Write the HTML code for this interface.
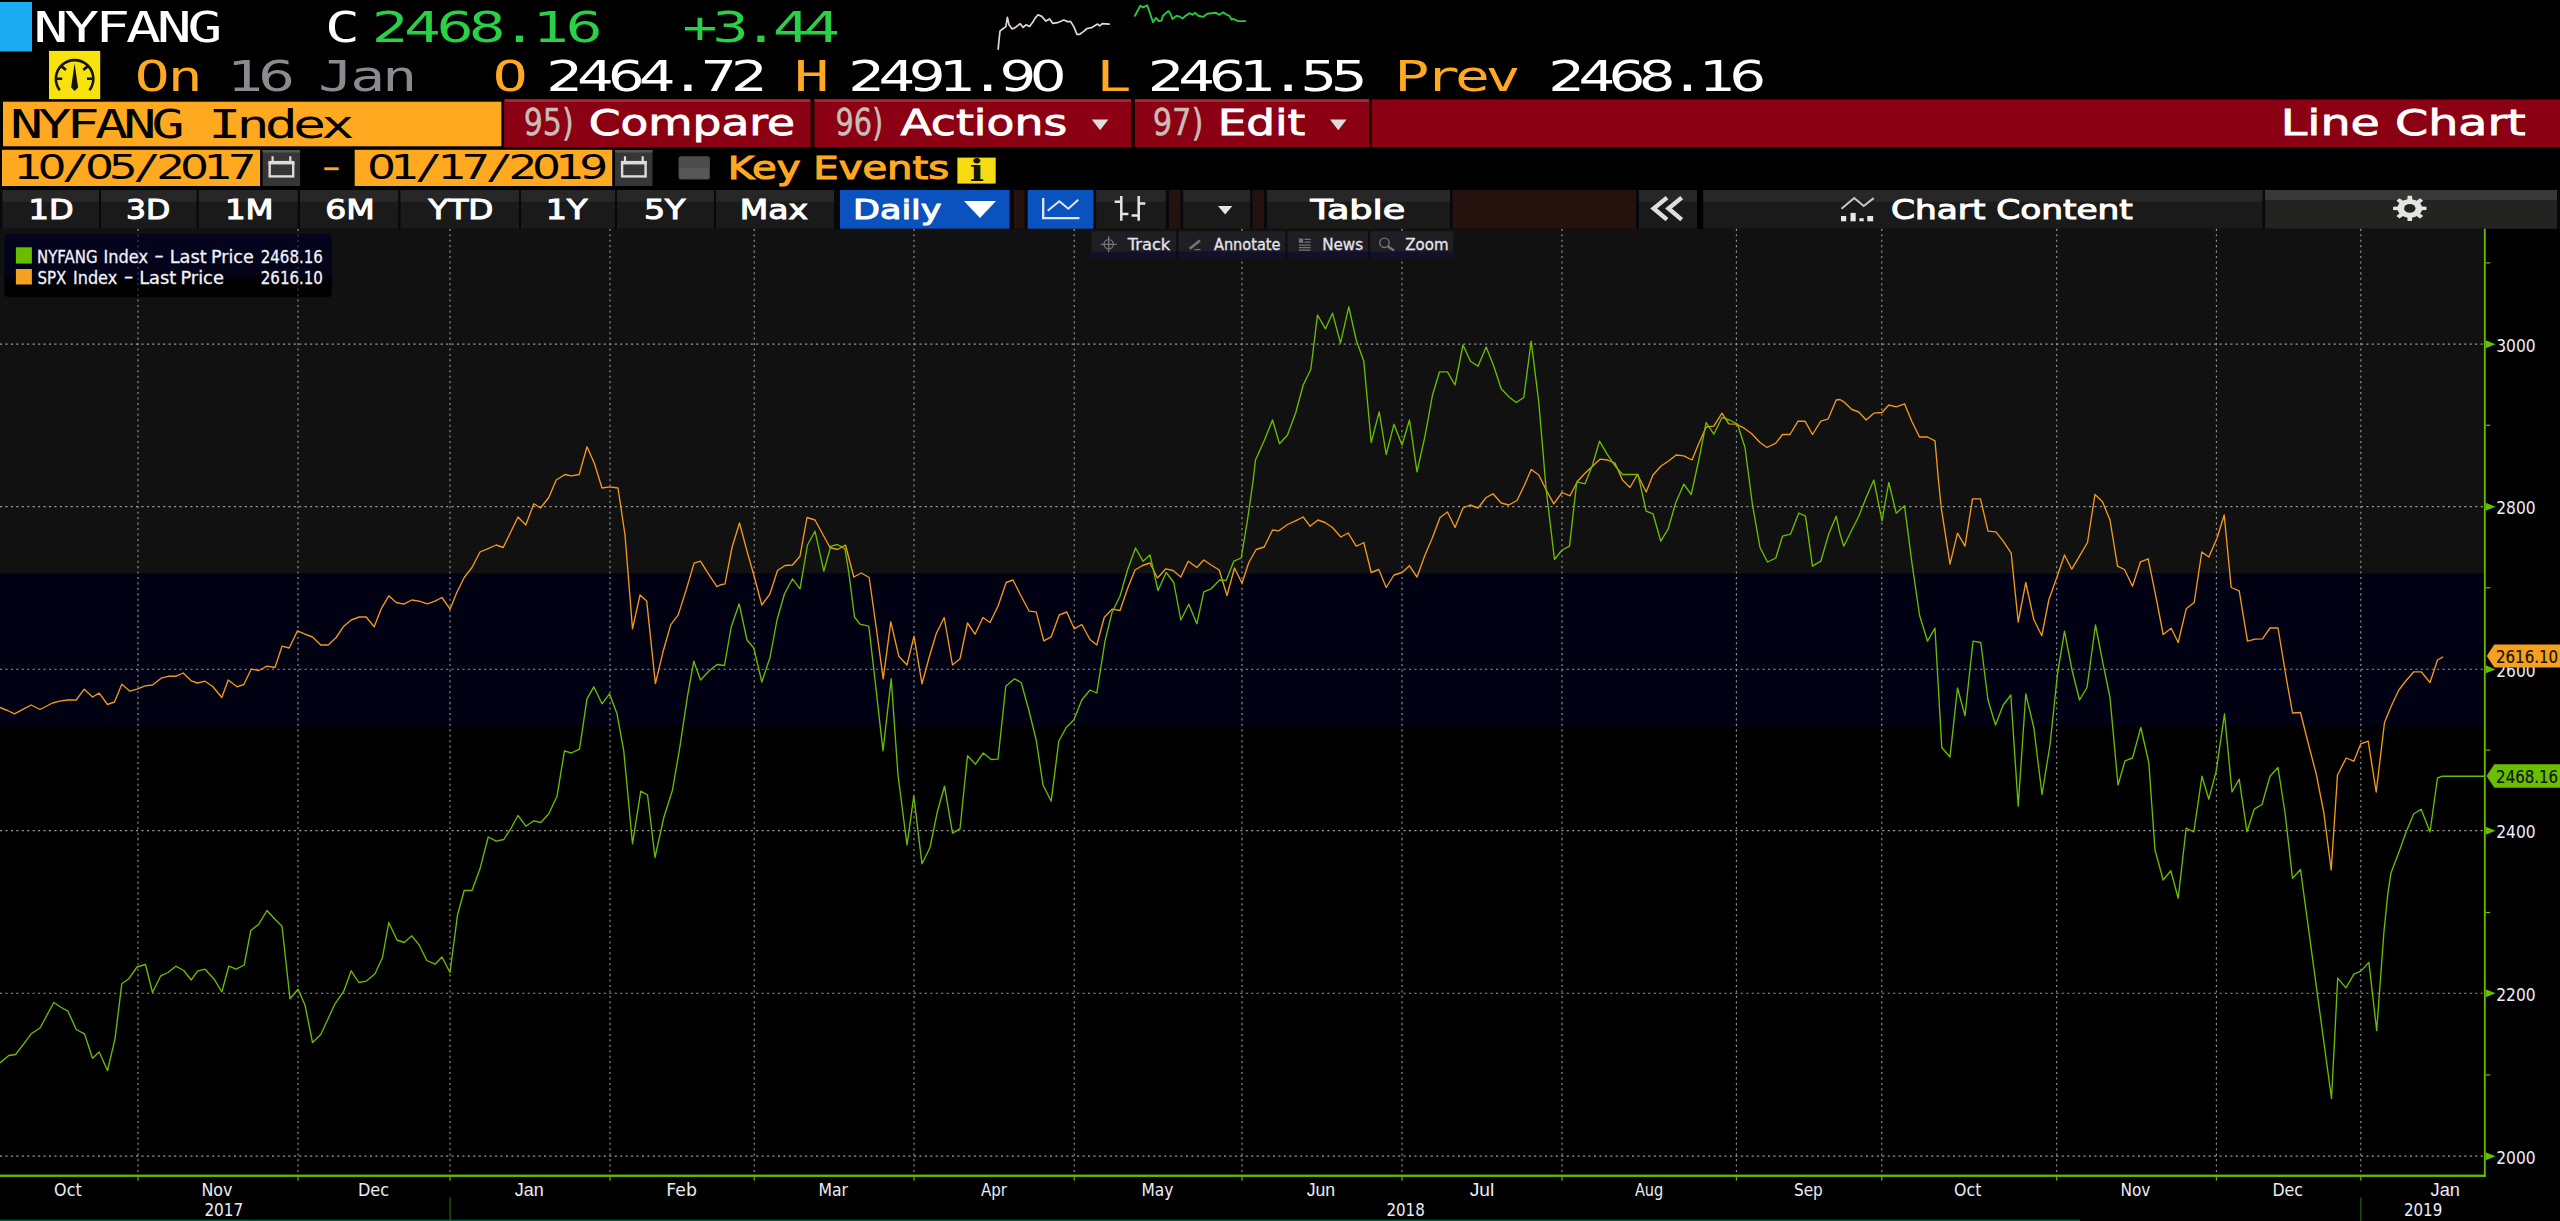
<!DOCTYPE html>
<html><head><meta charset="utf-8"><title>NYFANG Index - Line Chart</title>
<style>html,body{margin:0;padding:0;background:#000;overflow:hidden}svg{display:block}</style></head>
<body>
<svg width="2560" height="1221" viewBox="0 0 2560 1221">
<rect x="0" y="0" width="2560" height="1221" fill="#000" />
<rect x="0" y="2" width="32" height="49.5" fill="#1AABF0" />
<text transform="translate(0 42) scale(1.385 1)" x="24.24 46.47 68.70 90.93 113.16 135.39" y="0" font-family="'DejaVu Sans Mono', 'Liberation Mono', monospace"  font-size="41.84" fill="#fff" >NYFANG</text>
<text transform="translate(0 42) scale(1.385 1)" x="234.70" y="0" font-family="'DejaVu Sans Mono', 'Liberation Mono', monospace"  font-size="41.84" fill="#fff" >C</text>
<text transform="translate(0 42) scale(1.385 1)" y="0" font-size="41.84" fill="#28D146" ><tspan font-family="'DejaVu Sans', 'Liberation Sans', sans-serif" x="268.60 291.88 315.17 338.46">2468</tspan><tspan font-family="'DejaVu Sans Mono', 'Liberation Mono', monospace" x="362.47">.</tspan><tspan font-family="'DejaVu Sans', 'Liberation Sans', sans-serif" x="385.04 408.33">16</tspan></text>
<text transform="translate(0 42) scale(1.385 1)" y="0" font-size="41.84" fill="#28D146" ><tspan font-family="'DejaVu Sans Mono', 'Liberation Mono', monospace" x="492.79">+</tspan><tspan font-family="'DejaVu Sans', 'Liberation Sans', sans-serif" x="514.07">3</tspan><tspan font-family="'DejaVu Sans Mono', 'Liberation Mono', monospace" x="536.78">.</tspan><tspan font-family="'DejaVu Sans', 'Liberation Sans', sans-serif" x="558.07 580.06">44</tspan></text>
<path d="M998.2 49.1 L999.0 40.1 L1000.0 31.1 L1003.2 28.5 L1005.8 26.9 L1007.4 17.4 L1009.0 24.8 L1012.2 29.0 L1015.8 27.2 L1020.1 23.7 L1023.2 27.4 L1025.9 24.8 L1029.6 26.4 L1032.7 22.2 L1035.4 17.9 L1038.0 14.8 L1041.7 16.4 L1045.9 21.1 L1049.6 19.0 L1052.8 23.4 L1057.5 22.7 L1063.8 20.0 L1067.5 21.6 L1070.7 21.6 L1073.9 26.9 L1077.0 34.3 L1079.7 34.3 L1083.4 31.6 L1087.0 28.5 L1091.8 27.6 L1095.5 25.3 L1097.6 24.1 L1099.7 25.8 L1102.3 23.7 L1109.2 24.1" fill="none" stroke="#E4D6D6" stroke-width="1.7" stroke-linejoin="round" stroke-linecap="round"/>
<path d="M1135.0 15.8 L1137.7 10.5 L1140.3 5.8 L1143.0 7.4 L1147.2 5.3 L1149.8 12.7 L1153.0 22.2 L1156.1 17.9 L1158.8 21.1 L1161.4 20.6 L1163.0 15.8 L1168.3 11.1 L1170.4 13.7 L1172.5 19.0 L1176.7 15.8 L1179.9 16.7 L1182.5 18.5 L1186.2 15.3 L1189.9 13.2 L1192.5 14.8 L1195.2 12.9 L1198.3 15.8 L1203.1 16.9 L1207.3 13.7 L1211.5 13.2 L1215.7 12.7 L1219.4 14.8 L1223.1 12.4 L1226.8 14.8 L1228.9 15.3 L1231.6 19.5 L1233.7 19.0 L1237.9 21.1 L1245.3 21.1" fill="none" stroke="#27C840" stroke-width="1.9" stroke-linejoin="round" stroke-linecap="round"/>
<rect x="49" y="50.9" width="51.2" height="48.2" fill="#F8E20E" />
<g transform="translate(74.6 78.8)" stroke="#141400" stroke-width="2.6" fill="none" stroke-linecap="butt"><path d="M-14.84 11.38A18.7 18.7 0 1 1 14.84 11.38"/><path d="M-18.6 0H-12.4M18.6 0H12.4M-13.8 -12.9L-8.6 -8.9M13.8 -12.9L8.6 -8.9"/><path d="M0 -15.2L3.5 8.6L0 12.2L-3.5 8.6Z" fill="#141400" stroke="none"/></g>
<text transform="translate(0 91) scale(1.385 1)" x="97.25 121.13" y="0" font-family="'DejaVu Sans Mono', 'Liberation Mono', monospace"  font-size="41.84" fill="#FEA920" >On</text>
<text transform="translate(0 91) scale(1.385 1)" x="164.18 186.31" y="0" font-family="'DejaVu Sans', 'Liberation Sans', sans-serif"  font-size="41.84" fill="#8a8a90" >16</text>
<text transform="translate(0 91) scale(1.385 1)" x="229.72 252.86 276.00" y="0" font-family="'DejaVu Sans Mono', 'Liberation Mono', monospace"  font-size="41.84" fill="#8a8a90" >Jan</text>
<text transform="translate(0 91) scale(1.385 1)" x="355.85" y="0" font-family="'DejaVu Sans Mono', 'Liberation Mono', monospace"  font-size="41.84" fill="#FEA920" >O</text>
<text transform="translate(0 91) scale(1.385 1)" y="0" font-size="41.84" fill="#fff" ><tspan font-family="'DejaVu Sans', 'Liberation Sans', sans-serif" x="394.48 416.69 438.90 461.12">2464</tspan><tspan font-family="'DejaVu Sans Mono', 'Liberation Mono', monospace" x="484.04">.</tspan><tspan font-family="'DejaVu Sans', 'Liberation Sans', sans-serif" x="505.54 527.75">72</tspan></text>
<text transform="translate(0 91) scale(1.385 1)" x="573.54" y="0" font-family="'DejaVu Sans Mono', 'Liberation Mono', monospace"  font-size="41.84" fill="#FEA920" >H</text>
<text transform="translate(0 91) scale(1.385 1)" y="0" font-size="41.84" fill="#fff" ><tspan font-family="'DejaVu Sans', 'Liberation Sans', sans-serif" x="612.46 634.29 656.12 677.96">2491</tspan><tspan font-family="'DejaVu Sans Mono', 'Liberation Mono', monospace" x="700.50">.</tspan><tspan font-family="'DejaVu Sans', 'Liberation Sans', sans-serif" x="721.62 743.45">90</tspan></text>
<text transform="translate(0 91) scale(1.385 1)" x="791.77" y="0" font-family="'DejaVu Sans Mono', 'Liberation Mono', monospace"  font-size="41.84" fill="#FEA920" >L</text>
<text transform="translate(0 91) scale(1.385 1)" y="0" font-size="41.84" fill="#fff" ><tspan font-family="'DejaVu Sans', 'Liberation Sans', sans-serif" x="828.70 850.72 872.73 894.75">2461</tspan><tspan font-family="'DejaVu Sans Mono', 'Liberation Mono', monospace" x="917.48">.</tspan><tspan font-family="'DejaVu Sans', 'Liberation Sans', sans-serif" x="938.78 960.79">55</tspan></text>
<text transform="translate(0 91) scale(1.385 1)" x="1006.81 1028.71 1050.62 1072.52" y="0" font-family="'DejaVu Sans Mono', 'Liberation Mono', monospace"  font-size="41.84" fill="#FEA920" >Prev</text>
<text transform="translate(0 91) scale(1.385 1)" y="0" font-size="41.84" fill="#fff" ><tspan font-family="'DejaVu Sans', 'Liberation Sans', sans-serif" x="1117.87 1139.66 1161.44 1183.23">2468</tspan><tspan font-family="'DejaVu Sans Mono', 'Liberation Mono', monospace" x="1205.73">.</tspan><tspan font-family="'DejaVu Sans', 'Liberation Sans', sans-serif" x="1226.80 1248.58">16</tspan></text>
<rect x="504.1" y="99.4" width="2055.9" height="47.8" fill="#8C0014" />
<rect x="505" y="99.3" width="305.5" height="2.5" fill="#A22E3A" />
<rect x="814.5" y="99.3" width="316.5" height="2.5" fill="#A22E3A" />
<rect x="1135" y="99.3" width="234" height="2.5" fill="#A22E3A" />
<rect x="810.5" y="99.3" width="4" height="48" fill="#1a0003" />
<rect x="1131" y="99.3" width="4" height="48" fill="#1a0003" />
<rect x="1369" y="99.3" width="3" height="48" fill="#1a0003" />
<rect x="3" y="101.7" width="498.4" height="44.6" fill="#FEA920" />
<text transform="translate(0 137.5) scale(1.385 1)" x="7.23 27.67 48.10 68.54 88.98 109.41" y="0" font-family="'DejaVu Sans Mono', 'Liberation Mono', monospace"  font-size="39.78" fill="#000" >NYFANG</text>
<text transform="translate(0 137.5) scale(1.385 1)" x="150.29 170.73 191.16 211.60 232.04" y="0" font-family="'DejaVu Sans Mono', 'Liberation Mono', monospace"  font-size="39.78" fill="#000" >Index</text>
<text x="523.76" y="134.95" font-family="'DejaVu Sans', 'Liberation Sans', sans-serif"  font-size="37.17" textLength="49.87" lengthAdjust="spacingAndGlyphs" fill="#C9BDB6" stroke="#C9BDB6" stroke-width="0.5" >95)</text>
<text x="588.66" y="134.50" font-family="'DejaVu Sans', 'Liberation Sans', sans-serif"  font-size="36.35" textLength="206.35" lengthAdjust="spacingAndGlyphs" fill="#fff" stroke="#fff" stroke-width="0.8" >Compare</text>
<text x="835.44" y="134.95" font-family="'DejaVu Sans', 'Liberation Sans', sans-serif"  font-size="37.17" textLength="47.78" lengthAdjust="spacingAndGlyphs" fill="#C9BDB6" stroke="#C9BDB6" stroke-width="0.5" >96)</text>
<text x="900.45" y="134.50" font-family="'DejaVu Sans', 'Liberation Sans', sans-serif"  font-size="36.35" textLength="166.77" lengthAdjust="spacingAndGlyphs" fill="#fff" stroke="#fff" stroke-width="0.8" >Actions</text>
<text x="1152.63" y="134.95" font-family="'DejaVu Sans', 'Liberation Sans', sans-serif"  font-size="37.17" textLength="50.75" lengthAdjust="spacingAndGlyphs" fill="#C9BDB6" stroke="#C9BDB6" stroke-width="0.5" >97)</text>
<text x="1217.65" y="134.50" font-family="'DejaVu Sans', 'Liberation Sans', sans-serif"  font-size="36.35" textLength="87.73" lengthAdjust="spacingAndGlyphs" fill="#fff" stroke="#fff" stroke-width="0.8" >Edit</text>
<text x="2280.73" y="134.50" font-family="'DejaVu Sans', 'Liberation Sans', sans-serif"  font-size="36.35" textLength="245.01" lengthAdjust="spacingAndGlyphs" fill="#fff" stroke="#fff" stroke-width="0.8" >Line Chart</text>
<path d="M1091.8 119.4h16.6l-8.3 10.8z" fill="#ddd"/>
<path d="M1330 119.4h16.6l-8.3 10.8z" fill="#ddd"/>
<rect x="2" y="149.8" width="258.1" height="36.2" fill="#FEA920" />
<rect x="262.6" y="150" width="37.5" height="36" fill="#363636" />
<rect x="262.6" y="150" width="37.5" height="2.5" fill="#555" />
<g fill="none" stroke="#E2DADA"><rect x="269.7" y="163" width="23.5" height="13.4" stroke-width="2.4"/><path d="M268.5 162.6h25.9" stroke-width="3.4"/><path d="M272.6 156.3v5M290.3 156.3v5" stroke-width="2.2"/></g>
<rect x="354.7" y="149.8" width="257.5" height="36.2" fill="#FEA920" />
<rect x="615" y="150" width="37.5" height="36" fill="#363636" />
<rect x="615" y="150" width="37.5" height="2.5" fill="#555" />
<g fill="none" stroke="#E2DADA"><rect x="622.1" y="163" width="23.5" height="13.4" stroke-width="2.4"/><path d="M620.9 162.6h25.9" stroke-width="3.4"/><path d="M625.0 156.3v5M642.7 156.3v5" stroke-width="2.2"/></g>
<text transform="translate(0 179) scale(1.385 1)" y="0" font-size="32.92" fill="#000" ><tspan font-family="'DejaVu Sans', 'Liberation Sans', sans-serif" x="9.92 27.06">10</tspan><tspan font-family="'DejaVu Sans Mono', 'Liberation Mono', monospace" x="44.76">/</tspan><tspan font-family="'DejaVu Sans', 'Liberation Sans', sans-serif" x="61.34 78.48">05</tspan><tspan font-family="'DejaVu Sans Mono', 'Liberation Mono', monospace" x="96.18">/</tspan><tspan font-family="'DejaVu Sans', 'Liberation Sans', sans-serif" x="112.76 129.90 147.04 164.18">2017</tspan></text>
<text transform="translate(0 179) scale(1.385 1)" y="0" font-size="32.92" fill="#000" ><tspan font-family="'DejaVu Sans', 'Liberation Sans', sans-serif" x="264.98 282.00">01</tspan><tspan font-family="'DejaVu Sans Mono', 'Liberation Mono', monospace" x="299.59">/</tspan><tspan font-family="'DejaVu Sans', 'Liberation Sans', sans-serif" x="316.05 333.07">17</tspan><tspan font-family="'DejaVu Sans Mono', 'Liberation Mono', monospace" x="350.66">/</tspan><tspan font-family="'DejaVu Sans', 'Liberation Sans', sans-serif" x="367.12 384.14 401.17 418.19">2019</tspan></text>
<rect x="324.3" y="167.3" width="14.4" height="2.9" fill="#FEA920" />
<rect x="678.5" y="156.3" width="31.4" height="23.2" rx="2.5" fill="#4c4c4c"/>
<rect x="679.5" y="168" width="29.4" height="10.5" fill="#575757" />
<text x="727.75" y="178.65" font-family="'DejaVu Sans', 'Liberation Sans', sans-serif"  font-size="31.28" textLength="221.45" lengthAdjust="spacingAndGlyphs" fill="#FEA920" stroke="#FEA920" stroke-width="1.1" >Key Events</text>
<rect x="957.4" y="157.6" width="38.3" height="26" fill="#F6DA12" />
<text x="977" y="180.9" text-anchor="middle" font-family="'DejaVu Serif', 'Liberation Serif', serif" font-weight="bold" font-size="30" fill="#141400" transform="translate(977 0) scale(1.25 1) translate(-977 0)">i</text>
<rect x="0" y="190" width="2560" height="38.80000000000001" fill="#07070c" />
<rect x="1013" y="190" width="626" height="38.80000000000001" fill="#24120F" />
<rect x="2.4" y="190" width="96.6" height="38.80000000000001" fill="#1a1a1a" />
<rect x="2.4" y="190" width="96.6" height="11.800000000000011" fill="#272727" />
<rect x="101" y="190" width="95.5" height="38.80000000000001" fill="#1a1a1a" />
<rect x="101" y="190" width="95.5" height="11.800000000000011" fill="#272727" />
<rect x="198.7" y="190" width="98.90000000000003" height="38.80000000000001" fill="#1a1a1a" />
<rect x="198.7" y="190" width="98.90000000000003" height="11.800000000000011" fill="#272727" />
<rect x="300" y="190" width="98.19999999999999" height="38.80000000000001" fill="#1a1a1a" />
<rect x="300" y="190" width="98.19999999999999" height="11.800000000000011" fill="#272727" />
<rect x="400.5" y="190" width="118.5" height="38.80000000000001" fill="#1a1a1a" />
<rect x="400.5" y="190" width="118.5" height="11.800000000000011" fill="#272727" />
<rect x="521" y="190" width="94" height="38.80000000000001" fill="#1a1a1a" />
<rect x="521" y="190" width="94" height="11.800000000000011" fill="#272727" />
<rect x="617" y="190" width="97" height="38.80000000000001" fill="#1a1a1a" />
<rect x="617" y="190" width="97" height="11.800000000000011" fill="#272727" />
<rect x="716" y="190" width="118" height="38.80000000000001" fill="#1a1a1a" />
<rect x="716" y="190" width="118" height="11.800000000000011" fill="#272727" />
<text x="28.58" y="219.20" font-family="'DejaVu Sans', 'Liberation Sans', sans-serif"  font-size="26.20" textLength="45.01" lengthAdjust="spacingAndGlyphs" fill="#fff" stroke="#fff" stroke-width="1.0" >1D</text>
<text x="126.10" y="219.20" font-family="'DejaVu Sans', 'Liberation Sans', sans-serif"  font-size="26.20" textLength="44.26" lengthAdjust="spacingAndGlyphs" fill="#fff" stroke="#fff" stroke-width="1.0" >3D</text>
<text x="224.93" y="219.20" font-family="'DejaVu Sans', 'Liberation Sans', sans-serif"  font-size="26.20" textLength="48.75" lengthAdjust="spacingAndGlyphs" fill="#fff" stroke="#fff" stroke-width="1.0" >1M</text>
<text x="325.19" y="219.20" font-family="'DejaVu Sans', 'Liberation Sans', sans-serif"  font-size="26.20" textLength="49.53" lengthAdjust="spacingAndGlyphs" fill="#fff" stroke="#fff" stroke-width="1.0" >6M</text>
<text x="428.56" y="219.20" font-family="'DejaVu Sans', 'Liberation Sans', sans-serif"  font-size="26.20" textLength="64.86" lengthAdjust="spacingAndGlyphs" fill="#fff" stroke="#fff" stroke-width="1.0" >YTD</text>
<text x="545.84" y="219.20" font-family="'DejaVu Sans', 'Liberation Sans', sans-serif"  font-size="26.20" textLength="41.60" lengthAdjust="spacingAndGlyphs" fill="#fff" stroke="#fff" stroke-width="1.0" >1Y</text>
<text x="643.93" y="219.20" font-family="'DejaVu Sans', 'Liberation Sans', sans-serif"  font-size="26.20" textLength="41.50" lengthAdjust="spacingAndGlyphs" fill="#fff" stroke="#fff" stroke-width="1.0" >5Y</text>
<text x="739.76" y="219.20" font-family="'DejaVu Sans', 'Liberation Sans', sans-serif"  font-size="26.20" textLength="68.32" lengthAdjust="spacingAndGlyphs" fill="#fff" stroke="#fff" stroke-width="1.0" >Max</text>
<rect x="836" y="190" width="4" height="38.80000000000001" fill="#07070c" />
<rect x="840" y="190" width="169.7" height="38.80000000000001" fill="#0A52BE" />
<text x="853.07" y="219.20" font-family="'DejaVu Sans', 'Liberation Sans', sans-serif"  font-size="26.20" textLength="88.47" lengthAdjust="spacingAndGlyphs" fill="#fff" stroke="#fff" stroke-width="1.0" >Daily</text>
<path d="M964 201h32l-16 17z" fill="#fff"/>
<rect x="1009.7" y="190" width="4.3" height="38.80000000000001" fill="#07070c" />
<rect x="1024.5" y="190" width="3.2" height="38.80000000000001" fill="#07070c" />
<rect x="1027.7" y="190" width="65.9" height="38.80000000000001" fill="#0A52BE" />
<path d="M1043.2 198.1V218.1H1079.4" fill="none" stroke="#E6E6EA" stroke-width="2.3"/>
<path d="M1047.7 210.8L1059.3 201.3L1068.3 208.7L1078.3 199.7" fill="none" stroke="#E6E6EA" stroke-width="2"/>
<rect x="1093.6" y="190" width="2.6" height="38.80000000000001" fill="#07070c" />
<rect x="1096.2" y="190" width="69.70000000000005" height="38.80000000000001" fill="#1a1a1a" />
<rect x="1096.2" y="190" width="69.70000000000005" height="11.800000000000011" fill="#272727" />
<path d="M1121.3 196V220.8M1114.7 201.8H1121.3M1121.3 214H1128.4M1138.7 196V220.8M1138.7 203.4H1145.3M1131.6 215.5H1138.7" fill="none" stroke="#E8E4E4" stroke-width="2.5"/>
<rect x="1165.9" y="190" width="3.1" height="38.80000000000001" fill="#07070c" />
<rect x="1180.6" y="190" width="2.7" height="38.80000000000001" fill="#07070c" />
<rect x="1183.3" y="190" width="67.0" height="38.80000000000001" fill="#1a1a1a" />
<rect x="1183.3" y="190" width="67.0" height="11.800000000000011" fill="#272727" />
<path d="M1218 206h14.3l-7.15 8.5z" fill="#E8E4E4"/>
<rect x="1250.3" y="190" width="2.1" height="38.80000000000001" fill="#07070c" />
<rect x="1264" y="190" width="3.1" height="38.80000000000001" fill="#07070c" />
<rect x="1267.1" y="190" width="182.9000000000001" height="38.80000000000001" fill="#1a1a1a" />
<rect x="1267.1" y="190" width="182.9000000000001" height="11.800000000000011" fill="#272727" />
<text x="1310.60" y="219.20" font-family="'DejaVu Sans', 'Liberation Sans', sans-serif"  font-size="26.20" textLength="94.73" lengthAdjust="spacingAndGlyphs" fill="#fff" stroke="#fff" stroke-width="1.0" >Table</text>
<rect x="1450" y="190" width="2.5" height="38.80000000000001" fill="#07070c" />
<rect x="1636" y="190" width="3" height="38.80000000000001" fill="#07070c" />
<rect x="1639" y="190" width="58" height="38.80000000000001" fill="#1a1a1a" />
<rect x="1639" y="190" width="58" height="11.800000000000011" fill="#272727" />
<path d="M1667 197.6L1653.7 208.5L1667 219.6M1681.7 197.6L1668.5 208.5L1681.7 219.6" fill="none" stroke="#E0DCDC" stroke-width="4.4" stroke-linejoin="miter"/>
<rect x="1697" y="190" width="6.3" height="38.80000000000001" fill="#000" />
<rect x="1703.3" y="190" width="559.3999999999999" height="38.80000000000001" fill="#1a1a1a" />
<rect x="1703.3" y="190" width="559.3999999999999" height="11.800000000000011" fill="#272727" />
<path d="M1841.5 208.7L1854.2 198.1L1863.7 206L1873.7 198.1" fill="none" stroke="#C8C8C8" stroke-width="2"/>
<rect x="1841" y="216" width="5.2000000000000455" height="5.300000000000011" fill="#E8E8E8" />
<rect x="1850.5" y="212.9" width="5.2000000000000455" height="8.400000000000006" fill="#E8E8E8" />
<rect x="1859.4" y="218.2" width="4.2999999999999545" height="3.1000000000000227" fill="#E8E8E8" />
<rect x="1867.3" y="216" width="5.7999999999999545" height="5.300000000000011" fill="#E8E8E8" />
<text x="1891.07" y="219.20" font-family="'DejaVu Sans', 'Liberation Sans', sans-serif"  font-size="26.20" textLength="241.75" lengthAdjust="spacingAndGlyphs" fill="#fff" stroke="#fff" stroke-width="1.0" >Chart Content</text>
<rect x="2262.7" y="190" width="2.4" height="38.80000000000001" fill="#07070c" />
<rect x="2265.1" y="190" width="291.9000000000001" height="38.80000000000001" fill="#232321" />
<rect x="2265.1" y="190" width="291.9000000000001" height="10" fill="#383838" />
<path d="M2421.8 206.6 L2426.5 206.8 L2426.5 210.0 L2421.8 210.2 L2420.0 213.5 L2423.2 216.1 L2420.1 218.5 L2416.6 216.1 L2412.2 217.4 L2412.0 221.0 L2407.6 221.0 L2407.4 217.4 L2403.0 216.1 L2399.5 218.5 L2396.4 216.1 L2399.6 213.5 L2397.8 210.2 L2393.1 210.0 L2393.1 206.8 L2397.8 206.6 L2399.6 203.3 L2396.4 200.7 L2399.5 198.3 L2403.0 200.7 L2407.4 199.4 L2407.6 195.8 L2412.0 195.8 L2412.2 199.4 L2416.6 200.7 L2420.1 198.3 L2423.2 200.7 L2420.0 203.3Z" fill="#E6E4E0"/><path d="M2397.6 208.4A12.2 9.2 0 1 0 2422.0 208.4A12.2 9.2 0 1 0 2397.6 208.4Z" fill="#E6E4E0"/><path d="M2404.1 208.4A5.7 4.3 0 1 0 2415.5 208.4A5.7 4.3 0 1 0 2404.1 208.4Z" fill="#232321"/>
<rect x="0" y="228.8" width="2483.9" height="344.90000000000003" fill="#111111" />
<rect x="0" y="573.7" width="2483.9" height="152.6" fill="#010114" />
<line x1="138" y1="228.8" x2="138" y2="1174.6" stroke="#9a9a9a" stroke-width="1.1" stroke-dasharray="2.1 3.34"/>
<line x1="298" y1="228.8" x2="298" y2="1174.6" stroke="#9a9a9a" stroke-width="1.1" stroke-dasharray="2.1 3.34"/>
<line x1="450" y1="228.8" x2="450" y2="1174.6" stroke="#9a9a9a" stroke-width="1.1" stroke-dasharray="2.1 3.34"/>
<line x1="610" y1="228.8" x2="610" y2="1174.6" stroke="#9a9a9a" stroke-width="1.1" stroke-dasharray="2.1 3.34"/>
<line x1="754.2" y1="228.8" x2="754.2" y2="1174.6" stroke="#9a9a9a" stroke-width="1.1" stroke-dasharray="2.1 3.34"/>
<line x1="914" y1="228.8" x2="914" y2="1174.6" stroke="#9a9a9a" stroke-width="1.1" stroke-dasharray="2.1 3.34"/>
<line x1="1074.2" y1="228.8" x2="1074.2" y2="1174.6" stroke="#9a9a9a" stroke-width="1.1" stroke-dasharray="2.1 3.34"/>
<line x1="1242" y1="228.8" x2="1242" y2="1174.6" stroke="#9a9a9a" stroke-width="1.1" stroke-dasharray="2.1 3.34"/>
<line x1="1402" y1="228.8" x2="1402" y2="1174.6" stroke="#9a9a9a" stroke-width="1.1" stroke-dasharray="2.1 3.34"/>
<line x1="1562" y1="228.8" x2="1562" y2="1174.6" stroke="#9a9a9a" stroke-width="1.1" stroke-dasharray="2.1 3.34"/>
<line x1="1736.4" y1="228.8" x2="1736.4" y2="1174.6" stroke="#9a9a9a" stroke-width="1.1" stroke-dasharray="2.1 3.34"/>
<line x1="1881.8" y1="228.8" x2="1881.8" y2="1174.6" stroke="#9a9a9a" stroke-width="1.1" stroke-dasharray="2.1 3.34"/>
<line x1="2056.7" y1="228.8" x2="2056.7" y2="1174.6" stroke="#9a9a9a" stroke-width="1.1" stroke-dasharray="2.1 3.34"/>
<line x1="2216.4" y1="228.8" x2="2216.4" y2="1174.6" stroke="#9a9a9a" stroke-width="1.1" stroke-dasharray="2.1 3.34"/>
<line x1="2360.8" y1="228.8" x2="2360.8" y2="1174.6" stroke="#9a9a9a" stroke-width="1.1" stroke-dasharray="2.1 3.34"/>
<line x1="0" y1="1156.1" x2="2483.9" y2="1156.1" stroke="#9a9a9a" stroke-width="1.1" stroke-dasharray="2.1 3.34"/>
<line x1="0" y1="993.2" x2="2483.9" y2="993.2" stroke="#9a9a9a" stroke-width="1.1" stroke-dasharray="2.1 3.34"/>
<line x1="0" y1="830.6" x2="2483.9" y2="830.6" stroke="#9a9a9a" stroke-width="1.1" stroke-dasharray="2.1 3.34"/>
<line x1="0" y1="669.25" x2="2483.9" y2="669.25" stroke="#9a9a9a" stroke-width="1.1" stroke-dasharray="2.1 3.34"/>
<line x1="0" y1="506.6" x2="2483.9" y2="506.6" stroke="#9a9a9a" stroke-width="1.1" stroke-dasharray="2.1 3.34"/>
<line x1="0" y1="344.1" x2="2483.9" y2="344.1" stroke="#9a9a9a" stroke-width="1.1" stroke-dasharray="2.1 3.34"/>
<path d="M0.0 707.5 L7.5 710.5 L14.5 713.8 L23.8 708.8 L31.2 705.0 L40.0 709.5 L52.5 703.0 L60.0 701.2 L67.5 700.0 L76.2 700.0 L84.2 689.2 L92.5 697.0 L99.2 693.2 L107.5 704.5 L114.5 702.0 L121.8 684.2 L130.0 691.2 L137.0 689.2 L145.0 685.8 L152.5 685.0 L161.2 678.2 L168.8 676.2 L176.2 676.2 L183.2 673.0 L191.2 680.8 L197.5 683.0 L205.0 681.2 L212.5 686.2 L221.8 697.5 L228.2 680.0 L237.0 686.8 L243.8 684.5 L251.2 669.2 L258.8 670.5 L267.0 666.2 L275.0 667.5 L282.0 646.2 L289.2 648.0 L297.5 630.8 L305.0 634.2 L312.5 637.0 L320.8 645.0 L328.2 645.0 L336.2 637.5 L343.8 626.2 L351.2 620.0 L359.2 617.0 L366.2 617.0 L374.2 626.8 L381.2 608.8 L388.8 595.8 L396.2 602.5 L403.8 604.2 L411.8 600.0 L419.2 601.2 L427.5 603.8 L435.0 601.2 L442.0 597.5 L450.0 609.2 L456.8 592.5 L464.2 577.5 L472.0 567.5 L480.0 552.0 L487.5 548.8 L496.2 545.0 L503.2 547.5 L510.5 532.5 L518.0 517.0 L525.8 525.0 L533.8 503.8 L540.5 508.0 L548.8 497.5 L556.2 480.0 L565.0 474.5 L571.2 475.8 L579.2 474.5 L587.0 446.8 L594.5 463.8 L602.0 488.0 L610.0 486.8 L618.0 488.0 L625.0 535.0 L632.5 628.8 L640.0 595.0 L646.7 601.1 L655.4 683.6 L662.9 652.3 L670.7 624.9 L678.2 614.9 L686.2 589.9 L694.1 563.1 L700.4 561.1 L708.6 574.1 L716.9 586.6 L720.0 585.0 L725.0 583.8 L732.0 547.5 L739.5 523.0 L747.0 551.2 L753.8 575.0 L761.8 605.0 L770.0 593.8 L777.5 570.5 L785.0 565.5 L792.5 565.0 L800.0 556.2 L807.0 517.5 L815.0 520.0 L822.5 533.8 L830.0 547.5 L837.5 549.5 L845.5 545.0 L853.8 577.0 L861.2 573.0 L869.2 577.5 L876.2 627.5 L883.2 678.8 L890.8 621.8 L898.8 656.2 L907.0 665.0 L914.0 636.2 L922.0 683.8 L928.8 658.8 L936.2 633.8 L944.2 617.5 L952.5 665.0 L960.0 658.8 L967.5 623.0 L975.0 634.2 L983.0 617.5 L990.0 622.5 L998.0 606.2 L1006.2 582.5 L1013.0 580.0 L1021.2 596.2 L1029.2 611.2 L1036.2 611.8 L1043.8 640.8 L1051.2 636.8 L1059.2 615.0 L1066.8 612.0 L1074.2 628.8 L1081.8 624.5 L1090.0 639.5 L1096.8 645.0 L1104.2 617.5 L1112.0 609.2 L1120.0 610.5 L1127.5 588.8 L1135.0 570.0 L1142.5 565.5 L1150.0 563.0 L1157.5 578.0 L1165.8 568.8 L1173.0 570.5 L1180.8 577.0 L1188.2 561.2 L1196.8 567.5 L1203.8 560.0 L1211.2 565.0 L1219.2 570.0 L1227.0 595.5 L1234.5 568.0 L1242.0 583.2 L1248.8 562.5 L1256.2 549.5 L1264.2 547.0 L1272.5 530.0 L1278.8 530.8 L1287.5 524.5 L1295.0 521.2 L1303.2 517.0 L1310.0 526.2 L1318.0 520.0 L1325.0 522.5 L1332.5 527.5 L1340.8 537.0 L1348.2 533.0 L1356.2 546.2 L1360.0 544.5 L1363.8 542.5 L1371.2 572.5 L1378.8 569.5 L1386.2 587.5 L1394.0 575.0 L1402.0 572.5 L1409.5 565.8 L1417.0 577.0 L1425.0 555.0 L1432.5 537.5 L1440.0 517.5 L1447.5 512.0 L1455.0 527.5 L1463.0 508.0 L1470.0 505.0 L1478.0 508.0 L1486.2 497.5 L1493.0 493.8 L1501.2 503.0 L1508.8 505.0 L1517.0 500.5 L1524.5 485.0 L1531.2 469.5 L1538.8 475.0 L1546.2 490.0 L1553.8 503.8 L1562.0 492.5 L1570.0 495.8 L1577.5 481.2 L1585.0 473.2 L1592.5 466.2 L1600.0 459.2 L1607.5 460.0 L1615.0 463.2 L1622.5 480.0 L1630.0 487.5 L1637.5 474.5 L1646.2 492.0 L1653.0 475.0 L1660.8 466.2 L1668.2 461.2 L1676.2 455.0 L1683.8 455.8 L1692.0 460.0 L1699.2 442.5 L1706.2 427.0 L1713.8 426.2 L1722.0 413.2 L1728.8 423.8 L1736.2 424.2 L1744.2 428.2 L1751.8 433.8 L1760.0 442.5 L1767.0 447.5 L1775.8 443.2 L1782.5 434.5 L1790.0 434.5 L1798.0 421.2 L1805.0 421.2 L1812.5 434.5 L1820.8 421.2 L1828.2 418.8 L1836.2 400.0 L1840.0 399.5 L1843.8 401.8 L1851.8 409.5 L1858.8 412.0 L1866.2 420.0 L1873.8 413.2 L1882.0 412.5 L1888.8 405.0 L1896.2 406.8 L1904.5 403.8 L1911.8 421.2 L1919.5 437.0 L1927.5 437.0 L1935.0 440.8 L1938.2 477.5 L1941.2 507.5 L1950.0 564.2 L1957.5 533.2 L1965.0 546.2 L1972.5 498.8 L1980.5 498.8 L1988.0 531.2 L1995.8 531.8 L2003.2 541.2 L2011.2 553.2 L2018.2 622.0 L2025.8 582.5 L2033.8 619.5 L2041.8 635.8 L2048.8 600.0 L2056.8 577.5 L2064.5 555.0 L2071.8 569.2 L2079.5 556.2 L2087.5 542.5 L2095.0 494.5 L2102.5 501.8 L2110.0 520.0 L2117.5 566.2 L2124.5 569.5 L2132.5 586.2 L2140.5 561.8 L2148.2 558.8 L2155.8 596.2 L2163.2 634.5 L2171.2 628.2 L2178.2 642.5 L2186.2 608.8 L2194.2 602.5 L2201.8 552.0 L2208.8 557.0 L2216.8 538.8 L2224.2 515.0 L2231.2 587.5 L2239.2 590.8 L2247.5 641.2 L2255.0 639.2 L2262.5 638.8 L2270.0 628.0 L2278.0 628.0 L2286.2 677.5 L2292.5 713.0 L2300.5 712.5 L2308.0 742.5 L2316.2 773.8 L2323.8 812.5 L2331.2 870.0 L2337.5 775.0 L2346.2 758.0 L2353.8 761.2 L2360.8 743.8 L2368.2 741.2 L2376.2 792.0 L2384.5 722.5 L2391.2 706.2 L2398.8 690.0 L2406.2 680.5 L2413.8 671.8 L2421.2 671.8 L2430.0 682.5 L2437.5 660.0 L2443.0 656.8" fill="none" stroke="#F2981C" stroke-width="1.35" stroke-linejoin="round"/>
<path d="M0.0 1063.0 L8.8 1055.5 L15.5 1054.5 L23.8 1043.8 L31.2 1033.8 L40.0 1028.0 L53.8 1002.5 L61.2 1007.5 L68.0 1011.2 L76.2 1029.5 L84.5 1033.8 L92.5 1058.2 L99.2 1052.0 L107.5 1070.5 L115.0 1038.8 L121.8 983.8 L128.8 978.8 L137.0 967.0 L145.5 964.5 L152.5 992.5 L160.8 975.8 L168.0 972.5 L175.8 966.2 L183.8 970.5 L191.2 980.0 L197.5 971.2 L205.0 969.2 L214.2 979.2 L221.8 992.0 L228.8 966.2 L236.2 969.2 L244.2 965.0 L250.8 930.5 L258.8 924.2 L267.0 910.5 L274.5 918.8 L282.0 926.2 L290.0 998.8 L298.0 989.2 L305.0 1005.0 L312.5 1042.5 L320.8 1034.5 L327.5 1020.0 L335.0 1003.8 L343.8 991.2 L351.2 970.8 L358.8 982.5 L366.2 981.2 L375.0 973.8 L382.5 957.5 L388.8 922.5 L397.0 940.0 L404.2 942.5 L411.8 935.8 L419.2 945.0 L426.8 960.5 L435.0 964.2 L442.0 957.0 L450.0 972.5 L457.5 915.0 L464.2 890.5 L472.0 890.5 L480.0 868.8 L488.2 837.0 L496.2 841.2 L503.8 839.5 L511.2 828.0 L518.0 815.5 L525.8 826.2 L533.8 820.8 L540.8 822.5 L548.8 813.8 L557.0 796.2 L564.5 750.8 L571.2 753.0 L579.5 749.2 L587.0 698.8 L593.8 686.8 L602.0 703.8 L609.5 693.8 L617.0 713.8 L623.8 751.2 L632.5 843.8 L640.8 791.2 L647.5 795.0 L655.0 857.5 L663.8 817.5 L672.5 790.0 L680.0 746.2 L687.5 696.2 L693.8 661.2 L700.5 680.0 L708.8 671.2 L717.0 664.5 L724.5 665.5 L731.2 627.0 L739.2 603.8 L747.0 640.0 L753.8 648.0 L761.8 682.0 L770.0 657.5 L777.0 620.0 L784.5 593.8 L792.5 578.8 L800.0 588.8 L807.5 545.0 L815.0 531.2 L823.8 571.2 L830.8 546.2 L837.5 544.5 L845.0 548.8 L848.8 572.5 L854.5 617.0 L860.0 624.2 L868.8 626.2 L875.0 680.0 L883.0 750.8 L891.2 678.8 L898.0 775.0 L907.0 845.0 L913.8 796.2 L922.0 863.8 L930.0 847.5 L937.5 811.2 L944.5 786.2 L952.5 833.2 L960.0 828.8 L967.5 755.8 L975.5 764.2 L983.2 753.0 L991.2 759.5 L998.0 759.2 L1005.8 686.2 L1014.5 678.8 L1021.2 682.5 L1028.8 710.0 L1036.2 740.0 L1043.0 785.0 L1051.2 801.2 L1058.8 741.2 L1066.2 727.5 L1073.8 720.0 L1081.8 700.0 L1090.0 690.0 L1096.8 693.0 L1105.0 641.2 L1112.0 612.5 L1120.0 596.2 L1127.5 570.0 L1135.5 548.0 L1143.0 561.2 L1150.0 555.0 L1158.0 590.5 L1166.2 572.5 L1173.8 582.5 L1180.8 620.0 L1188.8 604.2 L1196.8 623.8 L1203.8 591.8 L1211.2 588.8 L1219.5 580.0 L1226.2 580.5 L1233.8 561.2 L1241.2 558.0 L1247.5 520.0 L1253.2 480.0 L1255.5 460.0 L1264.5 440.0 L1272.5 420.0 L1279.5 443.8 L1287.5 435.0 L1295.8 412.5 L1303.2 385.0 L1310.8 369.5 L1317.5 315.0 L1325.5 328.8 L1332.5 313.2 L1340.5 343.2 L1348.8 306.8 L1356.2 340.0 L1363.8 361.2 L1371.2 442.5 L1379.2 411.8 L1386.2 454.5 L1394.0 424.2 L1402.0 445.0 L1409.5 420.0 L1417.0 471.8 L1425.0 436.2 L1432.5 395.0 L1439.5 371.8 L1447.5 371.8 L1455.0 385.0 L1463.0 345.0 L1470.5 361.2 L1478.0 366.2 L1486.2 347.0 L1493.8 366.2 L1501.2 388.8 L1508.8 396.8 L1516.2 402.5 L1523.8 397.5 L1531.2 341.2 L1538.8 402.5 L1546.2 490.0 L1554.5 559.5 L1562.0 550.0 L1569.5 546.2 L1576.8 481.8 L1585.0 483.8 L1592.5 465.0 L1599.5 441.2 L1607.0 453.8 L1615.0 465.8 L1622.5 474.5 L1630.0 474.5 L1638.0 474.5 L1646.2 511.2 L1653.0 513.8 L1660.8 541.2 L1668.2 528.8 L1675.8 502.5 L1683.8 484.2 L1691.2 494.5 L1698.8 460.0 L1706.2 422.5 L1713.8 434.2 L1722.0 417.5 L1729.5 420.0 L1737.5 424.2 L1745.0 447.5 L1752.5 505.0 L1760.0 547.5 L1767.5 562.0 L1775.8 558.0 L1782.5 536.2 L1790.5 534.2 L1798.8 513.0 L1805.5 516.2 L1812.5 566.2 L1820.8 561.2 L1828.8 533.8 L1836.2 516.2 L1840.0 533.8 L1843.8 546.2 L1851.8 530.0 L1858.8 516.2 L1866.2 497.5 L1873.8 480.0 L1882.0 520.8 L1888.8 482.5 L1896.2 513.2 L1904.5 505.8 L1911.8 561.8 L1919.5 615.0 L1927.5 641.2 L1935.0 628.2 L1938.2 685.0 L1941.8 747.5 L1950.0 757.0 L1957.5 688.0 L1965.0 715.8 L1973.0 641.2 L1980.8 642.5 L1988.0 700.0 L1995.5 725.0 L2003.2 705.0 L2010.8 695.0 L2018.2 806.2 L2025.8 693.8 L2033.8 727.5 L2042.0 794.5 L2050.0 745.0 L2057.5 673.8 L2064.5 631.2 L2072.0 670.0 L2079.5 700.0 L2087.0 687.5 L2095.5 625.0 L2102.5 661.2 L2110.0 697.5 L2118.0 785.0 L2125.0 760.8 L2132.5 758.0 L2140.8 727.5 L2148.8 762.5 L2155.0 850.0 L2163.2 880.0 L2170.8 870.8 L2178.2 898.2 L2186.2 828.0 L2193.8 832.0 L2202.0 776.2 L2208.8 799.2 L2216.2 771.2 L2224.5 713.8 L2232.0 792.0 L2239.2 779.2 L2247.0 831.8 L2254.2 809.2 L2262.0 804.5 L2270.0 776.2 L2278.0 767.5 L2285.0 812.5 L2292.5 878.2 L2300.5 869.5 L2308.5 928.7 L2316.0 984.1 L2323.5 1039.3 L2331.5 1098.5 L2334.7 1037.3 L2337.7 978.1 L2346.0 987.9 L2353.9 974.1 L2360.9 971.1 L2368.9 962.4 L2376.7 1030.6 L2380.4 979.9 L2383.9 932.4 L2387.7 894.9 L2390.9 873.2 L2399.7 850.0 L2406.2 831.8 L2413.8 813.8 L2421.2 809.2 L2430.0 832.0 L2437.5 778.0 L2442.5 776.2 L2484.5 776.2" fill="none" stroke="#69BC00" stroke-width="1.35" stroke-linejoin="round"/>
<rect x="2483.9" y="228.8" width="1.8" height="948.0999999999999" fill="#68BD00" />
<rect x="0" y="1174.6" width="2485.7000000000003" height="2.3" fill="#68BD00" />
<path d="M2485.7000000000003 1152.1999999999998L2495.6 1156.25L2485.7000000000003 1160.1999999999998z" fill="#68BD00"/>
<text x="2496.27" y="1163.85" font-family="'DejaVu Sans', 'Liberation Sans', sans-serif"  font-size="18.38" textLength="39.36" lengthAdjust="spacingAndGlyphs" fill="#ECECF4" >2000</text>
<path d="M2485.7000000000003 989.3000000000001L2495.6 993.35L2485.7000000000003 997.3000000000001z" fill="#68BD00"/>
<text x="2496.27" y="1000.95" font-family="'DejaVu Sans', 'Liberation Sans', sans-serif"  font-size="18.38" textLength="39.36" lengthAdjust="spacingAndGlyphs" fill="#ECECF4" >2200</text>
<path d="M2485.7000000000003 826.7L2495.6 830.75L2485.7000000000003 834.7z" fill="#68BD00"/>
<text x="2496.27" y="838.35" font-family="'DejaVu Sans', 'Liberation Sans', sans-serif"  font-size="18.38" textLength="39.36" lengthAdjust="spacingAndGlyphs" fill="#ECECF4" >2400</text>
<path d="M2485.7000000000003 665.35L2495.6 669.4L2485.7000000000003 673.35z" fill="#68BD00"/>
<text x="2496.27" y="677.00" font-family="'DejaVu Sans', 'Liberation Sans', sans-serif"  font-size="18.38" textLength="39.36" lengthAdjust="spacingAndGlyphs" fill="#ECECF4" >2600</text>
<path d="M2485.7000000000003 502.70000000000005L2495.6 506.75L2485.7000000000003 510.70000000000005z" fill="#68BD00"/>
<text x="2496.27" y="514.35" font-family="'DejaVu Sans', 'Liberation Sans', sans-serif"  font-size="18.38" textLength="39.36" lengthAdjust="spacingAndGlyphs" fill="#ECECF4" >2800</text>
<path d="M2485.7000000000003 340.20000000000005L2495.6 344.25L2485.7000000000003 348.20000000000005z" fill="#68BD00"/>
<text x="2496.22" y="351.85" font-family="'DejaVu Sans', 'Liberation Sans', sans-serif"  font-size="18.38" textLength="39.41" lengthAdjust="spacingAndGlyphs" fill="#ECECF4" >3000</text>
<rect x="2485.7000000000003" y="1074.3" width="4.6" height="1.2" fill="#68BD00" />
<rect x="2485.7000000000003" y="911.8999999999999" width="4.6" height="1.2" fill="#68BD00" />
<rect x="2485.7000000000003" y="749.4999999999999" width="4.6" height="1.2" fill="#68BD00" />
<rect x="2485.7000000000003" y="587.0999999999998" width="4.6" height="1.2" fill="#68BD00" />
<rect x="2485.7000000000003" y="424.6999999999998" width="4.6" height="1.2" fill="#68BD00" />
<rect x="2485.7000000000003" y="262.29999999999984" width="4.6" height="1.2" fill="#68BD00" />
<text x="54.11" y="1195.50" font-family="'DejaVu Sans', 'Liberation Sans', sans-serif"  font-size="17.70" textLength="27.52" lengthAdjust="spacingAndGlyphs" fill="#ECECF4" >Oct</text>
<text x="201.44" y="1195.50" font-family="'DejaVu Sans', 'Liberation Sans', sans-serif"  font-size="17.70" textLength="31.03" lengthAdjust="spacingAndGlyphs" fill="#ECECF4" >Nov</text>
<text x="357.92" y="1195.50" font-family="'DejaVu Sans', 'Liberation Sans', sans-serif"  font-size="17.70" textLength="31.07" lengthAdjust="spacingAndGlyphs" fill="#ECECF4" >Dec</text>
<text x="514.72" y="1195.50" font-family="'Liberation Sans', sans-serif"  font-size="18.75" textLength="28.95" lengthAdjust="spacingAndGlyphs" fill="#ECECF4" >Jan</text>
<text x="666.36" y="1195.50" font-family="'DejaVu Sans', 'Liberation Sans', sans-serif"  font-size="17.70" textLength="30.56" lengthAdjust="spacingAndGlyphs" fill="#ECECF4" >Feb</text>
<text x="818.46" y="1195.50" font-family="'DejaVu Sans', 'Liberation Sans', sans-serif"  font-size="17.70" textLength="29.54" lengthAdjust="spacingAndGlyphs" fill="#ECECF4" >Mar</text>
<text x="980.88" y="1195.50" font-family="'DejaVu Sans', 'Liberation Sans', sans-serif"  font-size="17.70" textLength="26.12" lengthAdjust="spacingAndGlyphs" fill="#ECECF4" >Apr</text>
<text x="1141.48" y="1195.50" font-family="'DejaVu Sans', 'Liberation Sans', sans-serif"  font-size="17.70" textLength="31.98" lengthAdjust="spacingAndGlyphs" fill="#ECECF4" >May</text>
<text x="1306.72" y="1195.50" font-family="'Liberation Sans', sans-serif"  font-size="18.75" textLength="28.42" lengthAdjust="spacingAndGlyphs" fill="#ECECF4" >Jun</text>
<text x="1469.70" y="1195.50" font-family="'Liberation Sans', sans-serif"  font-size="18.75" textLength="24.59" lengthAdjust="spacingAndGlyphs" fill="#ECECF4" >Jul</text>
<text x="1634.89" y="1195.50" font-family="'DejaVu Sans', 'Liberation Sans', sans-serif"  font-size="17.70" textLength="28.44" lengthAdjust="spacingAndGlyphs" fill="#ECECF4" >Aug</text>
<text x="1793.99" y="1195.50" font-family="'DejaVu Sans', 'Liberation Sans', sans-serif"  font-size="17.70" textLength="28.85" lengthAdjust="spacingAndGlyphs" fill="#ECECF4" >Sep</text>
<text x="1954.11" y="1195.50" font-family="'DejaVu Sans', 'Liberation Sans', sans-serif"  font-size="17.70" textLength="27.26" lengthAdjust="spacingAndGlyphs" fill="#ECECF4" >Oct</text>
<text x="2120.49" y="1195.50" font-family="'DejaVu Sans', 'Liberation Sans', sans-serif"  font-size="17.70" textLength="29.96" lengthAdjust="spacingAndGlyphs" fill="#ECECF4" >Nov</text>
<text x="2272.45" y="1195.50" font-family="'DejaVu Sans', 'Liberation Sans', sans-serif"  font-size="17.70" textLength="30.53" lengthAdjust="spacingAndGlyphs" fill="#ECECF4" >Dec</text>
<text x="2430.62" y="1195.50" font-family="'Liberation Sans', sans-serif"  font-size="18.75" textLength="29.31" lengthAdjust="spacingAndGlyphs" fill="#ECECF4" >Jan</text>
<text x="204.38" y="1216.25" font-family="'DejaVu Sans', 'Liberation Sans', sans-serif"  font-size="17.42" textLength="38.93" lengthAdjust="spacingAndGlyphs" fill="#ECECF4" >2017</text>
<text x="1386.40" y="1216.25" font-family="'DejaVu Sans', 'Liberation Sans', sans-serif"  font-size="17.42" textLength="38.39" lengthAdjust="spacingAndGlyphs" fill="#ECECF4" >2018</text>
<text x="2403.89" y="1216.25" font-family="'DejaVu Sans', 'Liberation Sans', sans-serif"  font-size="17.42" textLength="38.42" lengthAdjust="spacingAndGlyphs" fill="#ECECF4" >2019</text>
<rect x="137.4" y="1176.6" width="1.2" height="4" fill="#68BD00" />
<rect x="297.4" y="1176.6" width="1.2" height="4" fill="#68BD00" />
<rect x="449.4" y="1176.6" width="1.2" height="4" fill="#68BD00" />
<rect x="609.4" y="1176.6" width="1.2" height="4" fill="#68BD00" />
<rect x="753.6" y="1176.6" width="1.2" height="4" fill="#68BD00" />
<rect x="913.4" y="1176.6" width="1.2" height="4" fill="#68BD00" />
<rect x="1073.6000000000001" y="1176.6" width="1.2" height="4" fill="#68BD00" />
<rect x="1241.4" y="1176.6" width="1.2" height="4" fill="#68BD00" />
<rect x="1401.4" y="1176.6" width="1.2" height="4" fill="#68BD00" />
<rect x="1561.4" y="1176.6" width="1.2" height="4" fill="#68BD00" />
<rect x="1735.8000000000002" y="1176.6" width="1.2" height="4" fill="#68BD00" />
<rect x="1881.2" y="1176.6" width="1.2" height="4" fill="#68BD00" />
<rect x="2056.1" y="1176.6" width="1.2" height="4" fill="#68BD00" />
<rect x="2215.8" y="1176.6" width="1.2" height="4" fill="#68BD00" />
<rect x="2360.2000000000003" y="1176.6" width="1.2" height="4" fill="#68BD00" />
<rect x="449.6" y="1197.5" width="1" height="23.5" fill="#3f7000" />
<rect x="2360.4" y="1197.5" width="1" height="23.5" fill="#3f7000" />
<rect x="0" y="1219.6" width="2080" height="1.4" fill="#0b5a42" />
<defs><linearGradient id="lg" x1="0" y1="0" x2="0" y2="1"><stop offset="0" stop-color="#04041e"/><stop offset="0.62" stop-color="#03031a"/><stop offset="0.76" stop-color="#000"/></linearGradient></defs>
<rect x="4.3" y="233.8" width="327.7" height="63.5" rx="4.5" fill="url(#lg)"/>
<rect x="15.9" y="247.3" width="16" height="16.3" fill="#68BD00" />
<rect x="15.9" y="269" width="16" height="15.5" fill="#F5A01E" />
<text x="36.96" y="263.05" font-family="'DejaVu Sans', 'Liberation Sans', sans-serif"  font-size="17.28" textLength="60.69" lengthAdjust="spacingAndGlyphs" fill="#F2F0FA" stroke="#F2F0FA" stroke-width="0.3" >NYFANG</text>
<text x="103.47" y="263.05" font-family="'DejaVu Sans', 'Liberation Sans', sans-serif"  font-size="17.28" textLength="44.61" lengthAdjust="spacingAndGlyphs" fill="#F2F0FA" stroke="#F2F0FA" stroke-width="0.3" >Index</text>
<text x="154.25" y="260.95" font-family="'DejaVu Sans', 'Liberation Sans', sans-serif"  font-size="17.28" textLength="9.60" lengthAdjust="spacingAndGlyphs" fill="#F2F0FA" stroke="#F2F0FA" stroke-width="0.3" >-</text>
<text x="169.70" y="263.05" font-family="'DejaVu Sans', 'Liberation Sans', sans-serif"  font-size="17.28" textLength="37.07" lengthAdjust="spacingAndGlyphs" fill="#F2F0FA" stroke="#F2F0FA" stroke-width="0.3" >Last</text>
<text x="210.94" y="263.05" font-family="'DejaVu Sans', 'Liberation Sans', sans-serif"  font-size="17.28" textLength="42.84" lengthAdjust="spacingAndGlyphs" fill="#F2F0FA" stroke="#F2F0FA" stroke-width="0.3" >Price</text>
<text x="260.75" y="263.05" font-family="'DejaVu Sans', 'Liberation Sans', sans-serif"  font-size="17.28" textLength="62.15" lengthAdjust="spacingAndGlyphs" fill="#F2F0FA" stroke="#F2F0FA" stroke-width="0.3" >2468.16</text>
<text x="37.41" y="284.35" font-family="'DejaVu Sans', 'Liberation Sans', sans-serif"  font-size="17.28" textLength="28.91" lengthAdjust="spacingAndGlyphs" fill="#F2F0FA" stroke="#F2F0FA" stroke-width="0.3" >SPX</text>
<text x="72.98" y="284.35" font-family="'DejaVu Sans', 'Liberation Sans', sans-serif"  font-size="17.28" textLength="44.29" lengthAdjust="spacingAndGlyphs" fill="#F2F0FA" stroke="#F2F0FA" stroke-width="0.3" >Index</text>
<text x="123.75" y="282.25" font-family="'DejaVu Sans', 'Liberation Sans', sans-serif"  font-size="17.28" textLength="9.60" lengthAdjust="spacingAndGlyphs" fill="#F2F0FA" stroke="#F2F0FA" stroke-width="0.3" >-</text>
<text x="139.20" y="284.35" font-family="'DejaVu Sans', 'Liberation Sans', sans-serif"  font-size="17.28" textLength="37.07" lengthAdjust="spacingAndGlyphs" fill="#F2F0FA" stroke="#F2F0FA" stroke-width="0.3" >Last</text>
<text x="180.41" y="284.35" font-family="'DejaVu Sans', 'Liberation Sans', sans-serif"  font-size="17.28" textLength="43.48" lengthAdjust="spacingAndGlyphs" fill="#F2F0FA" stroke="#F2F0FA" stroke-width="0.3" >Price</text>
<text x="260.75" y="284.35" font-family="'DejaVu Sans', 'Liberation Sans', sans-serif"  font-size="17.28" textLength="62.20" lengthAdjust="spacingAndGlyphs" fill="#F2F0FA" stroke="#F2F0FA" stroke-width="0.3" >2616.10</text>
<line x1="138" y1="234" x2="138" y2="297" stroke="#9a9a9a" stroke-opacity="0.45" stroke-width="1.1" stroke-dasharray="2.1 3.34" stroke-dashoffset="-0.3"/>
<line x1="298" y1="234" x2="298" y2="297" stroke="#9a9a9a" stroke-opacity="0.45" stroke-width="1.1" stroke-dasharray="2.1 3.34" stroke-dashoffset="-0.3"/>
<rect x="1091.6" y="231.1" width="361.8" height="27.1" fill="#1f1f23" />
<rect x="1091.6" y="251.6" width="361.8" height="6.6" fill="#11112c" />
<rect x="1176.3" y="231.1" width="2" height="27.1" fill="#0c0c10" />
<rect x="1285.4" y="231.1" width="2" height="27.1" fill="#0c0c10" />
<rect x="1368.2" y="231.1" width="2" height="27.1" fill="#0c0c10" />
<text x="1127.70" y="249.65" font-family="'DejaVu Sans', 'Liberation Sans', sans-serif"  font-size="16.05" textLength="42.60" lengthAdjust="spacingAndGlyphs" fill="#E6E4F0" stroke="#E6E4F0" stroke-width="0.3" >Track</text>
<text x="1213.94" y="249.65" font-family="'DejaVu Sans', 'Liberation Sans', sans-serif"  font-size="16.05" textLength="66.49" lengthAdjust="spacingAndGlyphs" fill="#E6E4F0" stroke="#E6E4F0" stroke-width="0.3" >Annotate</text>
<text x="1322.16" y="249.65" font-family="'DejaVu Sans', 'Liberation Sans', sans-serif"  font-size="16.05" textLength="41.03" lengthAdjust="spacingAndGlyphs" fill="#E6E4F0" stroke="#E6E4F0" stroke-width="0.3" >News</text>
<text x="1405.27" y="249.65" font-family="'DejaVu Sans', 'Liberation Sans', sans-serif"  font-size="16.05" textLength="43.35" lengthAdjust="spacingAndGlyphs" fill="#E6E4F0" stroke="#E6E4F0" stroke-width="0.3" >Zoom</text>
<g fill="none" stroke="#74747c" stroke-width="1.3"><circle cx="1108.7" cy="244.3" r="4.6"/><path d="M1100.7 244.3h16M1108.7 236.3v16"/></g>
<path d="M1189.7 248.7L1200 240.6" stroke="#74747c" stroke-width="2.6" fill="none"/><path d="M1194.5 249.6h6" stroke="#74747c" stroke-width="1.2"/>
<g stroke="#74747c" stroke-width="1.3"><path d="M1304.5 239.3h6.1M1304.5 242.2h6.1M1298.9 245.1h11.7M1298.9 247.7h11.7M1298.9 250.2h11.7"/></g><rect x="1298.9" y="238.5" width="4.3" height="4.4" fill="#74747c"/>
<g fill="none" stroke="#74747c"><circle cx="1384.5" cy="242.8" r="4.7" stroke-width="1.4"/><path d="M1388 246.4L1394 250.4" stroke-width="2.4"/></g>
<path d="M2486.7 656.1L2494.3 644.5H2560V667.6H2494.3z" fill="#F5A01E"/>
<text x="2495.90" y="662.90" font-family="'DejaVu Sans', 'Liberation Sans', sans-serif"  font-size="17.42" textLength="62.30" lengthAdjust="spacingAndGlyphs" fill="#1a1200" stroke="#1a1200" stroke-width="0.2" >2616.10</text>
<path d="M2486.5 775.95L2494.3 764.3H2560V787.7H2494.3z" fill="#6BBF00"/>
<text x="2496.10" y="782.90" font-family="'DejaVu Sans', 'Liberation Sans', sans-serif"  font-size="17.42" textLength="62.04" lengthAdjust="spacingAndGlyphs" fill="#0c1800" stroke="#0c1800" stroke-width="0.2" >2468.16</text>
</svg>
</body></html>
